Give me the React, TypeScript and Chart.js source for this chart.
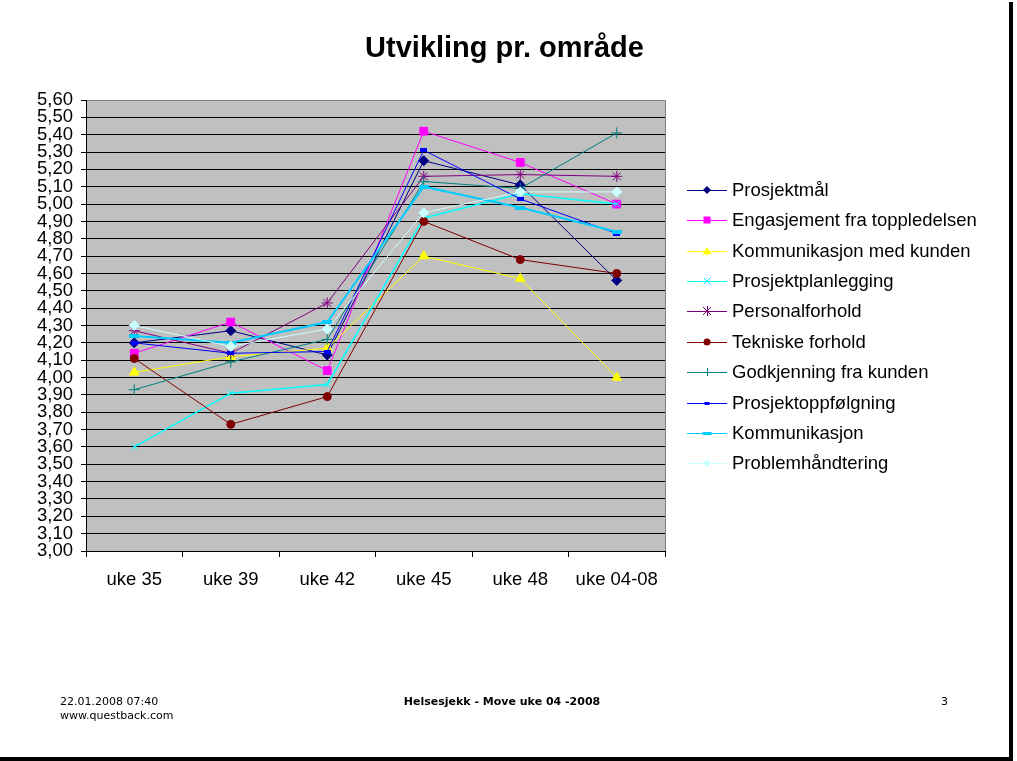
import React, { useEffect, useRef } from 'react';
import { Chart, registerables } from 'chart.js';

Chart.register(...registerables);

// ---------- data ----------
const categories = ['uke 35', 'uke 39', 'uke 42', 'uke 45', 'uke 48', 'uke 04-08'];

const seriesNames = [
  'Prosjektmål',
  'Engasjement fra toppledelsen',
  'Kommunikasjon med kunden',
  'Prosjektplanlegging',
  'Personalforhold',
  'Tekniske forhold',
  'Godkjenning fra kunden',
  'Prosjektoppfølgning',
  'Kommunikasjon',
  'Problemhåndtering',
];

const prosjektmal = [4.2, 4.27, 4.13, 5.25, 5.11, 4.56];
const engasjement = [4.14, 4.32, 4.04, 5.42, 5.24, 5.0];
const kommunikasjonKunden = [4.03, 4.12, 4.17, 4.7, 4.57, 4.0];
const prosjektplanlegging = [3.6, 3.91, 3.96, 4.92, 5.06, 5.0];
const personalforhold = [4.27, 4.14, 4.43, 5.16, 5.17, 5.16];
const tekniske = [4.11, 3.73, 3.89, 4.9, 4.68, 4.6];
const godkjenning = [3.93, 4.09, 4.22, 5.13, 5.09, 5.41];
const prosjektoppfolgning = [4.2, 4.14, 4.15, 5.31, 5.03, 4.83];
const kommunikasjon = [4.24, 4.2, 4.32, 5.1, 4.98, 4.84];
const problemhandtering = [4.3, 4.18, 4.28, 4.95, 5.07, 5.07];

const seriesValues = [
  prosjektmal,
  engasjement,
  kommunikasjonKunden,
  prosjektplanlegging,
  personalforhold,
  tekniske,
  godkjenning,
  prosjektoppfolgning,
  kommunikasjon,
  problemhandtering,
];

const yMin = 3.0;
const yMax = 5.6;
const yStep = 0.1;

const titleText = 'Utvikling pr. område';
const footerDate = '22.01.2008 07:40';
const footerSite = 'www.questback.com';
const footerCenter = 'Helsesjekk - Move uke 04 -2008';
const footerPage = '3';

// ---------- styles ----------
const colors = [
  '#000080',
  '#FF00FF',
  '#FFFF00',
  '#00FFFF',
  '#800080',
  '#800000',
  '#008080',
  '#0000FF',
  '#00CCFF',
  '#CCFFFF',
];
const markerKinds = [
  'diamond',
  'square',
  'triangle',
  'x',
  'star',
  'circle',
  'plus',
  'dashShort',
  'dashLong',
  'diamond',
];
const lineWidths = [1, 1, 1, 1.5, 1, 1, 1, 1, 2, 1];

const FONT = '"Liberation Sans", Arial, sans-serif';

function makeDash(w: number, h: number, color: string) {
  const c = document.createElement('canvas');
  c.width = w;
  c.height = h;
  const cx = c.getContext('2d')!;
  cx.fillStyle = color;
  cx.fillRect(0, 0, w, h);
  return c;
}

function pointStyleFor(kind: string, color: string): any {
  switch (kind) {
    case 'diamond':
      return 'rectRot';
    case 'square':
      return 'rect';
    case 'triangle':
      return 'triangle';
    case 'x':
      return 'crossRot';
    case 'star':
      return 'star';
    case 'circle':
      return 'circle';
    case 'plus':
      return 'cross';
    case 'dashShort':
      return makeDash(7, 4, color);
    case 'dashLong':
      return makeDash(10, 4, color);
  }
  return 'circle';
}

function radiusFor(kind: string) {
  switch (kind) {
    case 'diamond':
      return 5;
    case 'square':
      return 5.5;
    case 'triangle':
      return 5.5;
    case 'x':
      return 4.5;
    case 'star':
      return 5.5;
    case 'circle':
      return 4;
    case 'plus':
      return 5.5;
  }
  return 4;
}

function drawLegendMarker(ctx: CanvasRenderingContext2D, kind: string, x: number, y: number, color: string) {
  ctx.save();
  ctx.fillStyle = color;
  ctx.strokeStyle = color;
  ctx.lineWidth = 1;
  ctx.beginPath();
  switch (kind) {
    case 'diamond': {
      const r = 4;
      ctx.moveTo(x, y - r);
      ctx.lineTo(x + r, y);
      ctx.lineTo(x, y + r);
      ctx.lineTo(x - r, y);
      ctx.closePath();
      ctx.fill();
      break;
    }
    case 'square':
      ctx.fillRect(x - 3.5, y - 3.5, 7, 7);
      break;
    case 'triangle':
      ctx.moveTo(x, y - 4);
      ctx.lineTo(x + 4.5, y + 3.5);
      ctx.lineTo(x - 4.5, y + 3.5);
      ctx.closePath();
      ctx.fill();
      break;
    case 'x':
      ctx.moveTo(x - 3.5, y - 3.5);
      ctx.lineTo(x + 3.5, y + 3.5);
      ctx.moveTo(x + 3.5, y - 3.5);
      ctx.lineTo(x - 3.5, y + 3.5);
      ctx.stroke();
      break;
    case 'star':
      ctx.moveTo(x - 4, y - 4);
      ctx.lineTo(x + 4, y + 4);
      ctx.moveTo(x + 4, y - 4);
      ctx.lineTo(x - 4, y + 4);
      ctx.moveTo(x + 0.5, y - 5);
      ctx.lineTo(x + 0.5, y + 5);
      ctx.stroke();
      break;
    case 'circle':
      ctx.arc(x, y, 3.5, 0, Math.PI * 2);
      ctx.fill();
      break;
    case 'plus':
      ctx.moveTo(x - 4, y + 0.5);
      ctx.lineTo(x + 4, y + 0.5);
      ctx.moveTo(x + 0.5, y - 4);
      ctx.lineTo(x + 0.5, y + 4);
      ctx.stroke();
      break;
    case 'dashShort':
      ctx.fillRect(x - 2.5, y - 1, 5, 3);
      break;
    case 'dashLong':
      ctx.fillRect(x - 4.5, y - 1, 9, 3);
      break;
  }
  ctx.restore();
}

const plotBgPlugin = {
  id: 'plotBg',
  beforeDraw(chart: any) {
    const { ctx, chartArea } = chart;
    ctx.save();
    ctx.fillStyle = '#C0C0C0';
    ctx.fillRect(chartArea.left, chartArea.top, chartArea.right - chartArea.left, chartArea.bottom - chartArea.top);
    ctx.restore();
  },
  afterDraw(chart: any) {
    const { ctx, chartArea } = chart;
    ctx.save();
    ctx.strokeStyle = '#808080';
    ctx.lineWidth = 1;
    ctx.beginPath();
    ctx.moveTo(chartArea.left + 1, Math.round(chartArea.top) + 0.5);
    ctx.lineTo(Math.round(chartArea.right) + 0.5, Math.round(chartArea.top) + 0.5);
    ctx.lineTo(Math.round(chartArea.right) + 0.5, chartArea.bottom);
    ctx.stroke();
    ctx.restore();
  },
};

const legendPlugin = {
  id: 'excelLegend',
  afterDraw(chart: any) {
    const ctx: CanvasRenderingContext2D = chart.ctx;
    const top = 190;
    const gap = 30.37;
    chart.data.datasets.forEach((ds: any, i: number) => {
      const y = Math.round(top + i * gap);
      ctx.save();
      ctx.strokeStyle = ds.borderColor;
      ctx.lineWidth = 1;
      ctx.beginPath();
      ctx.moveTo(687, y + 0.5);
      ctx.lineTo(727, y + 0.5);
      ctx.stroke();
      drawLegendMarker(ctx, markerKinds[i], 707, y, ds.borderColor);
      ctx.fillStyle = '#000';
      ctx.font = `18.5px ${FONT}`;
      ctx.textBaseline = 'middle';
      ctx.textAlign = 'left';
      ctx.fillText(ds.label, 732, y + 1);
      ctx.restore();
    });
  },
};

export default function App() {
  const canvasRef = useRef<HTMLCanvasElement>(null);

  useEffect(() => {
    const canvas = canvasRef.current;
    if (!canvas) return;
    const datasets = seriesNames.map((name, i) => ({
      label: name,
      data: seriesValues[i],
      borderColor: colors[i],
      backgroundColor: colors[i],
      pointBackgroundColor: colors[i],
      pointBorderColor: colors[i],
      pointStyle: pointStyleFor(markerKinds[i], colors[i]),
      pointRadius: radiusFor(markerKinds[i]),
      pointBorderWidth: 1,
      borderWidth: lineWidths[i],
      tension: 0,
      fill: false,
      order: 20 - i,
    }));

    const tickFont = { family: FONT, size: 18.5 };

    const chart = new Chart(canvas, {
      type: 'line',
      data: { labels: categories, datasets },
      options: {
        responsive: false,
        animation: false,
        devicePixelRatio: 1,
        layout: { padding: { left: 26, right: 352, top: 100, bottom: 150 } },
        plugins: {
          legend: { display: false },
          title: { display: false },
          tooltip: { enabled: false },
        },
        scales: {
          x: {
            offset: true,
            grid: {
              offset: true,
              drawOnChartArea: false,
              drawTicks: true,
              tickLength: 6,
              color: '#000',
            },
            border: { color: '#000', width: 1 },
            ticks: {
              font: tickFont,
              color: '#000',
              padding: 12,
              maxRotation: 0,
              autoSkip: false,
            },
            afterFit: (s: any) => {
              s.height = 60;
            },
          },
          y: {
            min: yMin,
            max: yMax,
            grid: {
              color: '#000',
              tickLength: 5,
              lineWidth: 1,
            },
            border: { color: '#000', width: 1 },
            ticks: {
              stepSize: yStep,
              autoSkip: false,
              font: tickFont,
              color: '#000',
              padding: 8,
              callback: (v: any) => Number(v).toFixed(2).replace('.', ','),
            },
            afterFit: (s: any) => {
              s.width = 60;
            },
          },
        },
      } as any,
      plugins: [plotBgPlugin, legendPlugin],
    });
    return () => chart.destroy();
  }, []);

  return (
    <div
      style={{
        position: 'absolute',
        left: 0,
        top: 0,
        width: 1017,
        height: 761,
        background: '#fff',
        overflow: 'hidden',
      }}
    >
      <canvas ref={canvasRef} width={1017} height={761} style={{ position: 'absolute', left: 0, top: 0 }} />
      <div
        style={{
          position: 'absolute',
          left: 0,
          top: 33,
          width: 1009,
          textAlign: 'center',
          font: `bold 29px ${FONT}`,
          lineHeight: '29px',
          color: '#000',
        }}
      >
        {titleText}
      </div>
      <div
        style={{
          position: 'absolute',
          left: 60,
          top: 695,
          font: '11px "DejaVu Sans", Verdana, sans-serif',
          lineHeight: '14px',
          color: '#000',
        }}
      >
        <div>{footerDate}</div>
        <div>{footerSite}</div>
      </div>
      <div
        style={{
          position: 'absolute',
          left: 300,
          width: 404,
          top: 695,
          textAlign: 'center',
          font: 'bold 11px "DejaVu Sans", Verdana, sans-serif',
          lineHeight: '14px',
          color: '#000',
        }}
      >
        {footerCenter}
      </div>
      <div
        style={{
          position: 'absolute',
          left: 941,
          top: 695,
          font: '11px "DejaVu Sans", Verdana, sans-serif',
          lineHeight: '14px',
          color: '#000',
        }}
      >
        {footerPage}
      </div>
      <div style={{ position: 'absolute', left: 1009, top: 2, width: 4, height: 759, background: '#000' }} />
      <div style={{ position: 'absolute', left: 0, top: 757, width: 1013, height: 4, background: '#000' }} />
    </div>
  );
}
